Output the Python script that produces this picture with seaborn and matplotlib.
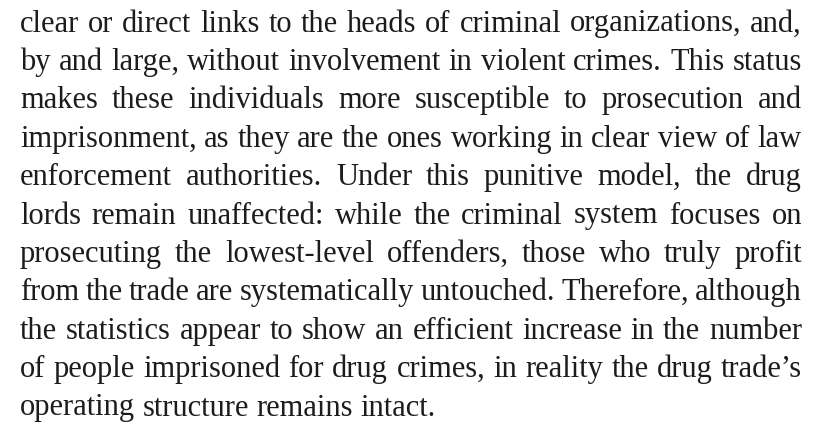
import matplotlib
matplotlib.use("Agg")
import matplotlib.pyplot as plt
import seaborn as sns

# Text content (paragraph lines as they are broken in the reference)
lines = [
    "clear or direct links to the heads of criminal organizations, and,",
    "by and large, without involvement in violent crimes. This status",
    "makes these individuals more susceptible to prosecution and",
    "imprisonment, as they are the ones working in clear view of law",
    "enforcement authorities. Under this punitive model, the drug",
    "lords remain unaffected: while the criminal system focuses on",
    "prosecuting the lowest-level offenders, those who truly profit",
    "from the trade are systematically untouched. Therefore, although",
    "the statistics appear to show an efficient increase in the number",
    "of people imprisoned for drug crimes, in reality the drug trade\u2019s",
    "operating structure remains intact.",
]

sns.set_theme(style="white")
plt.rcParams['font.family'] = ['Liberation Serif', 'DejaVu Serif']

W, H = 815, 440
fig = plt.figure(figsize=(W / 100, H / 100), dpi=100)
ax = fig.add_axes([0, 0, 1, 1])
ax.set_xlim(0, W)
ax.set_ylim(H, 0)
ax.axis("off")

left, right = 20, 802
top_baseline = 31.5
spacing = 38.4
color = "#1c1c1c"

fig.canvas.draw()
renderer = fig.canvas.get_renderer()

def width(s, fs):
    t = ax.text(0, 0, s, fontsize=fs)
    w = t.get_window_extent(renderer).width
    t.remove()
    return w

def min_gap(fs):
    g = []
    for line in lines[:-1]:
        words = line.split(" ")
        tot = sum(width(wd, fs) for wd in words)
        g.append((right - left - tot) / (len(words) - 1))
    return min(g)

fs = 23.0
while fs > 16:
    sw = width("a b", fs) - width("ab", fs)
    if min_gap(fs) >= 0.8 * sw:
        break
    fs -= 0.25

space_w = width("a b", fs) - width("ab", fs)

for i, line in enumerate(lines):
    y = top_baseline + i * spacing
    words = line.split(" ")
    widths = [width(wd, fs) for wd in words]
    total = sum(widths)
    if i < len(lines) - 1 and len(words) > 1:
        gap = (right - left - total) / (len(words) - 1)
    else:
        gap = space_w
    x = left
    for wd, w in zip(words, widths):
        ax.text(x, y, wd, fontsize=fs, color=color, ha="left", va="baseline")
        x += w + gap

fig.savefig("out.png", dpi=100, facecolor="white")
